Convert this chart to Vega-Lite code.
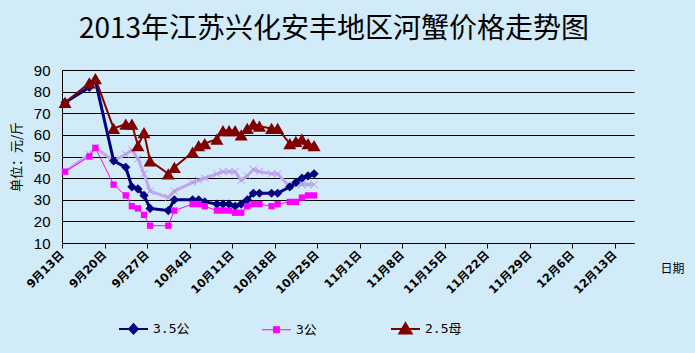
{
  "$schema": "https://vega.github.io/schema/vega-lite/v6.json",
  "width": 572,
  "height": 173,
  "autosize": "none",
  "padding": {"left": 62, "top": 70, "right": 61, "bottom": 110},
  "background": "#d2ebf8",
  "title": {"text": "2013年江苏兴化安丰地区河蟹价格走势图", "font": "Noto Sans CJK SC", "fontSize": 28, "fontWeight": "normal", "color": "#000000", "anchor": "middle", "dx": -14, "offset": 19},
  "config": {"view": {"stroke": null}},
  "data": {"values": [
    {"date": "2013-09-13T12:00", "series": "3.5公", "price": 75},
    {"date": "2013-09-17T12:00", "series": "3.5公", "price": 82},
    {"date": "2013-09-18T12:00", "series": "3.5公", "price": 85},
    {"date": "2013-09-21T12:00", "series": "3.5公", "price": 48},
    {"date": "2013-09-23T12:00", "series": "3.5公", "price": 45},
    {"date": "2013-09-24T12:00", "series": "3.5公", "price": 36},
    {"date": "2013-09-25T12:00", "series": "3.5公", "price": 35},
    {"date": "2013-09-26T12:00", "series": "3.5公", "price": 32},
    {"date": "2013-09-27T12:00", "series": "3.5公", "price": 26},
    {"date": "2013-09-30T12:00", "series": "3.5公", "price": 25},
    {"date": "2013-10-01T12:00", "series": "3.5公", "price": 30},
    {"date": "2013-10-04T12:00", "series": "3.5公", "price": 30},
    {"date": "2013-10-05T12:00", "series": "3.5公", "price": 30},
    {"date": "2013-10-06T12:00", "series": "3.5公", "price": 29},
    {"date": "2013-10-08T12:00", "series": "3.5公", "price": 28},
    {"date": "2013-10-09T12:00", "series": "3.5公", "price": 28},
    {"date": "2013-10-10T12:00", "series": "3.5公", "price": 28},
    {"date": "2013-10-11T12:00", "series": "3.5公", "price": 27},
    {"date": "2013-10-12T12:00", "series": "3.5公", "price": 28},
    {"date": "2013-10-13T12:00", "series": "3.5公", "price": 30},
    {"date": "2013-10-14T12:00", "series": "3.5公", "price": 33},
    {"date": "2013-10-15T12:00", "series": "3.5公", "price": 33},
    {"date": "2013-10-17T12:00", "series": "3.5公", "price": 33},
    {"date": "2013-10-18T12:00", "series": "3.5公", "price": 33},
    {"date": "2013-10-20T12:00", "series": "3.5公", "price": 36},
    {"date": "2013-10-21T12:00", "series": "3.5公", "price": 38},
    {"date": "2013-10-22T12:00", "series": "3.5公", "price": 40},
    {"date": "2013-10-23T12:00", "series": "3.5公", "price": 41},
    {"date": "2013-10-24T12:00", "series": "3.5公", "price": 42},
    {"date": "2013-09-13T12:00", "series": "3公", "price": 43},
    {"date": "2013-09-17T12:00", "series": "3公", "price": 50},
    {"date": "2013-09-18T12:00", "series": "3公", "price": 54},
    {"date": "2013-09-21T12:00", "series": "3公", "price": 37},
    {"date": "2013-09-23T12:00", "series": "3公", "price": 32},
    {"date": "2013-09-24T12:00", "series": "3公", "price": 27},
    {"date": "2013-09-25T12:00", "series": "3公", "price": 26},
    {"date": "2013-09-26T12:00", "series": "3公", "price": 23},
    {"date": "2013-09-27T12:00", "series": "3公", "price": 18},
    {"date": "2013-09-30T12:00", "series": "3公", "price": 18},
    {"date": "2013-10-01T12:00", "series": "3公", "price": 25},
    {"date": "2013-10-04T12:00", "series": "3公", "price": 28},
    {"date": "2013-10-05T12:00", "series": "3公", "price": 28},
    {"date": "2013-10-06T12:00", "series": "3公", "price": 27},
    {"date": "2013-10-08T12:00", "series": "3公", "price": 25},
    {"date": "2013-10-09T12:00", "series": "3公", "price": 25},
    {"date": "2013-10-10T12:00", "series": "3公", "price": 25},
    {"date": "2013-10-11T12:00", "series": "3公", "price": 24},
    {"date": "2013-10-12T12:00", "series": "3公", "price": 24},
    {"date": "2013-10-13T12:00", "series": "3公", "price": 27},
    {"date": "2013-10-14T12:00", "series": "3公", "price": 28},
    {"date": "2013-10-15T12:00", "series": "3公", "price": 28},
    {"date": "2013-10-17T12:00", "series": "3公", "price": 27},
    {"date": "2013-10-18T12:00", "series": "3公", "price": 28},
    {"date": "2013-10-20T12:00", "series": "3公", "price": 29},
    {"date": "2013-10-21T12:00", "series": "3公", "price": 29},
    {"date": "2013-10-22T12:00", "series": "3公", "price": 31},
    {"date": "2013-10-23T12:00", "series": "3公", "price": 32},
    {"date": "2013-10-24T12:00", "series": "3公", "price": 32},
    {"date": "2013-09-13T12:00", "series": "2.5母", "price": 75},
    {"date": "2013-09-17T12:00", "series": "2.5母", "price": 84},
    {"date": "2013-09-18T12:00", "series": "2.5母", "price": 86},
    {"date": "2013-09-21T12:00", "series": "2.5母", "price": 63},
    {"date": "2013-09-23T12:00", "series": "2.5母", "price": 65},
    {"date": "2013-09-24T12:00", "series": "2.5母", "price": 65},
    {"date": "2013-09-25T12:00", "series": "2.5母", "price": 55},
    {"date": "2013-09-26T12:00", "series": "2.5母", "price": 61},
    {"date": "2013-09-27T12:00", "series": "2.5母", "price": 48},
    {"date": "2013-09-30T12:00", "series": "2.5母", "price": 42},
    {"date": "2013-10-01T12:00", "series": "2.5母", "price": 45},
    {"date": "2013-10-04T12:00", "series": "2.5母", "price": 52},
    {"date": "2013-10-05T12:00", "series": "2.5母", "price": 55},
    {"date": "2013-10-06T12:00", "series": "2.5母", "price": 56},
    {"date": "2013-10-08T12:00", "series": "2.5母", "price": 58},
    {"date": "2013-10-09T12:00", "series": "2.5母", "price": 62},
    {"date": "2013-10-10T12:00", "series": "2.5母", "price": 62},
    {"date": "2013-10-11T12:00", "series": "2.5母", "price": 62},
    {"date": "2013-10-12T12:00", "series": "2.5母", "price": 60},
    {"date": "2013-10-13T12:00", "series": "2.5母", "price": 63},
    {"date": "2013-10-14T12:00", "series": "2.5母", "price": 65},
    {"date": "2013-10-15T12:00", "series": "2.5母", "price": 64},
    {"date": "2013-10-17T12:00", "series": "2.5母", "price": 63},
    {"date": "2013-10-18T12:00", "series": "2.5母", "price": 63},
    {"date": "2013-10-20T12:00", "series": "2.5母", "price": 56},
    {"date": "2013-10-21T12:00", "series": "2.5母", "price": 57},
    {"date": "2013-10-22T12:00", "series": "2.5母", "price": 58},
    {"date": "2013-10-23T12:00", "series": "2.5母", "price": 56},
    {"date": "2013-10-24T12:00", "series": "2.5母", "price": 55},
    {"date": "2013-09-13T12:00", "series": "2母", "price": 43},
    {"date": "2013-09-17T12:00", "series": "2母", "price": 51},
    {"date": "2013-09-18T12:00", "series": "2母", "price": 54},
    {"date": "2013-09-21T12:00", "series": "2母", "price": 48},
    {"date": "2013-09-23T12:00", "series": "2母", "price": 51},
    {"date": "2013-09-24T12:00", "series": "2母", "price": 53},
    {"date": "2013-09-25T12:00", "series": "2母", "price": 49},
    {"date": "2013-09-26T12:00", "series": "2母", "price": 42},
    {"date": "2013-09-27T12:00", "series": "2母", "price": 34},
    {"date": "2013-09-30T12:00", "series": "2母", "price": 31},
    {"date": "2013-10-01T12:00", "series": "2母", "price": 34},
    {"date": "2013-10-04T12:00", "series": "2母", "price": 38},
    {"date": "2013-10-05T12:00", "series": "2母", "price": 39},
    {"date": "2013-10-06T12:00", "series": "2母", "price": 40},
    {"date": "2013-10-08T12:00", "series": "2母", "price": 42},
    {"date": "2013-10-09T12:00", "series": "2母", "price": 43},
    {"date": "2013-10-10T12:00", "series": "2母", "price": 43},
    {"date": "2013-10-11T12:00", "series": "2母", "price": 43},
    {"date": "2013-10-12T12:00", "series": "2母", "price": 39},
    {"date": "2013-10-13T12:00", "series": "2母", "price": 41},
    {"date": "2013-10-14T12:00", "series": "2母", "price": 44},
    {"date": "2013-10-15T12:00", "series": "2母", "price": 43},
    {"date": "2013-10-17T12:00", "series": "2母", "price": 42},
    {"date": "2013-10-18T12:00", "series": "2母", "price": 42},
    {"date": "2013-10-20T12:00", "series": "2母", "price": 36},
    {"date": "2013-10-21T12:00", "series": "2母", "price": 37},
    {"date": "2013-10-22T12:00", "series": "2母", "price": 37},
    {"date": "2013-10-23T12:00", "series": "2母", "price": 37},
    {"date": "2013-10-24T12:00", "series": "2母", "price": 37}
  ]},
  "encoding": {
    "x": {
      "field": "date", "type": "temporal",
      "scale": {"domain": [{"year": 2013, "month": 9, "date": 13}, {"year": 2013, "month": 12, "date": 16, "hours": 4}]},
      "axis": {
        "values": [
          {"year": 2013, "month": 9, "date": 13}, {"year": 2013, "month": 9, "date": 20}, {"year": 2013, "month": 9, "date": 27},
          {"year": 2013, "month": 10, "date": 4}, {"year": 2013, "month": 10, "date": 11}, {"year": 2013, "month": 10, "date": 18},
          {"year": 2013, "month": 10, "date": 25}, {"year": 2013, "month": 11, "date": 1}, {"year": 2013, "month": 11, "date": 8},
          {"year": 2013, "month": 11, "date": 15}, {"year": 2013, "month": 11, "date": 22}, {"year": 2013, "month": 11, "date": 29},
          {"year": 2013, "month": 12, "date": 6}, {"year": 2013, "month": 12, "date": 13}
        ],
        "labelExpr": "(month(datum.value)+1) + '月' + date(datum.value) + '日'",
        "labelAngle": -45, "labelAlign": "right", "labelBaseline": "middle",
        "labelFont": "DejaVu Sans, Noto Sans CJK SC", "labelFontSize": 11.5, "labelFontWeight": "bold", "labelColor": "#000000",
        "labelPadding": 5, "labelOverlap": false, "labelFlush": false, "labelBound": false,
        "tickSize": 5, "tickColor": "#000000", "domainColor": "#000000", "grid": false,
        "title": "日期", "titleFont": "Noto Sans CJK SC", "titleFontSize": 12, "titleFontWeight": "normal", "titleColor": "#000000",
        "titleX": 598, "titleY": 25, "titleAngle": 0, "titleAlign": "left", "titleBaseline": "middle"
      }
    },
    "y": {
      "field": "price", "type": "quantitative",
      "scale": {"domain": [10, 90]},
      "axis": {
        "values": [10, 20, 30, 40, 50, 60, 70, 80, 90],
        "grid": true, "gridColor": "#000000", "gridWidth": 1, "ticks": false, "domainColor": "#000000",
        "labelFont": "Liberation Sans", "labelFontSize": 15, "labelColor": "#000000", "labelPadding": 12,
        "title": "单位：元/斤", "titleFont": "Noto Sans CJK SC", "titleFontSize": 13, "titleFontWeight": "normal", "titleColor": "#000000", "titlePadding": 10
      }
    }
  },
  "layer": [
    {
      "transform": [{"filter": "datum.series === '2母'"}],
      "mark": {"type": "line", "color": "#c2a6ee", "strokeWidth": 3}
    },
    {
      "transform": [{"filter": "datum.series === '2母'"}],
      "mark": {"type": "point", "filled": false, "shape": "M-1,-1L1,1M1,-1L-1,1", "size": 50, "strokeWidth": 1, "opacity": 1, "color": "#b497e6"}
    },
    {
      "transform": [{"filter": "datum.series === '3.5公'"}],
      "mark": {"type": "line", "strokeWidth": 3},
      "encoding": {
        "color": {
          "field": "series", "type": "nominal",
          "scale": {"domain": ["3.5公", "3公", "2.5母"], "range": ["#000080", "#ff00ff", "#800000"]},
          "legend": {
            "orient": "none", "legendX": 65, "legendY": 252, "direction": "horizontal", "title": null,
            "symbolSize": 841, "symbolStrokeWidth": 2,
            "labelFont": "DejaVu Sans Mono, Noto Sans CJK SC", "labelFontSize": 13, "labelColor": "#000000", "labelOffset": 13,
            "columnPadding": 70,
            "encode": {"symbols": {"update": {
              "shape": {"signal": "datum.value === '3.5公' ? 'M-1,0H1M0,-0.32L0.3,0L0,0.32L-0.3,0Z' : datum.value === '3公' ? 'M-1,0H1M-0.21,-0.21H0.21V0.21H-0.21Z' : 'M-1,0H1M0,-0.4L0.42,0.3L-0.42,0.3Z'"},
              "fill": {"signal": "scale('color', datum.value)"},
              "stroke": {"signal": "scale('color', datum.value)"},
              "strokeWidth": {"signal": "datum.value === '3公' ? 1 : 2"},
              "opacity": {"value": 1}
            }}}
          }
        }
      }
    },
    {
      "transform": [{"filter": "datum.series === '3公'"}],
      "mark": {"type": "line", "strokeWidth": 1},
      "encoding": {"color": {"field": "series", "type": "nominal"}}
    },
    {
      "transform": [{"filter": "datum.series === '2.5母'"}],
      "mark": {"type": "line", "strokeWidth": 2},
      "encoding": {"color": {"field": "series", "type": "nominal"}}
    },
    {
      "transform": [{"filter": "datum.series === '3.5公'"}],
      "mark": {"type": "point", "filled": true, "opacity": 1, "shape": "diamond", "size": 85},
      "encoding": {"color": {"field": "series", "type": "nominal"}}
    },
    {
      "transform": [{"filter": "datum.series === '3公'"}],
      "mark": {"type": "point", "filled": true, "opacity": 1, "shape": "square", "size": 40},
      "encoding": {"color": {"field": "series", "type": "nominal"}}
    },
    {
      "transform": [{"filter": "datum.series === '2.5母'"}],
      "mark": {"type": "point", "filled": true, "opacity": 1, "shape": "triangle-up", "size": 170},
      "encoding": {"color": {"field": "series", "type": "nominal"}}
    }
  ]
}
